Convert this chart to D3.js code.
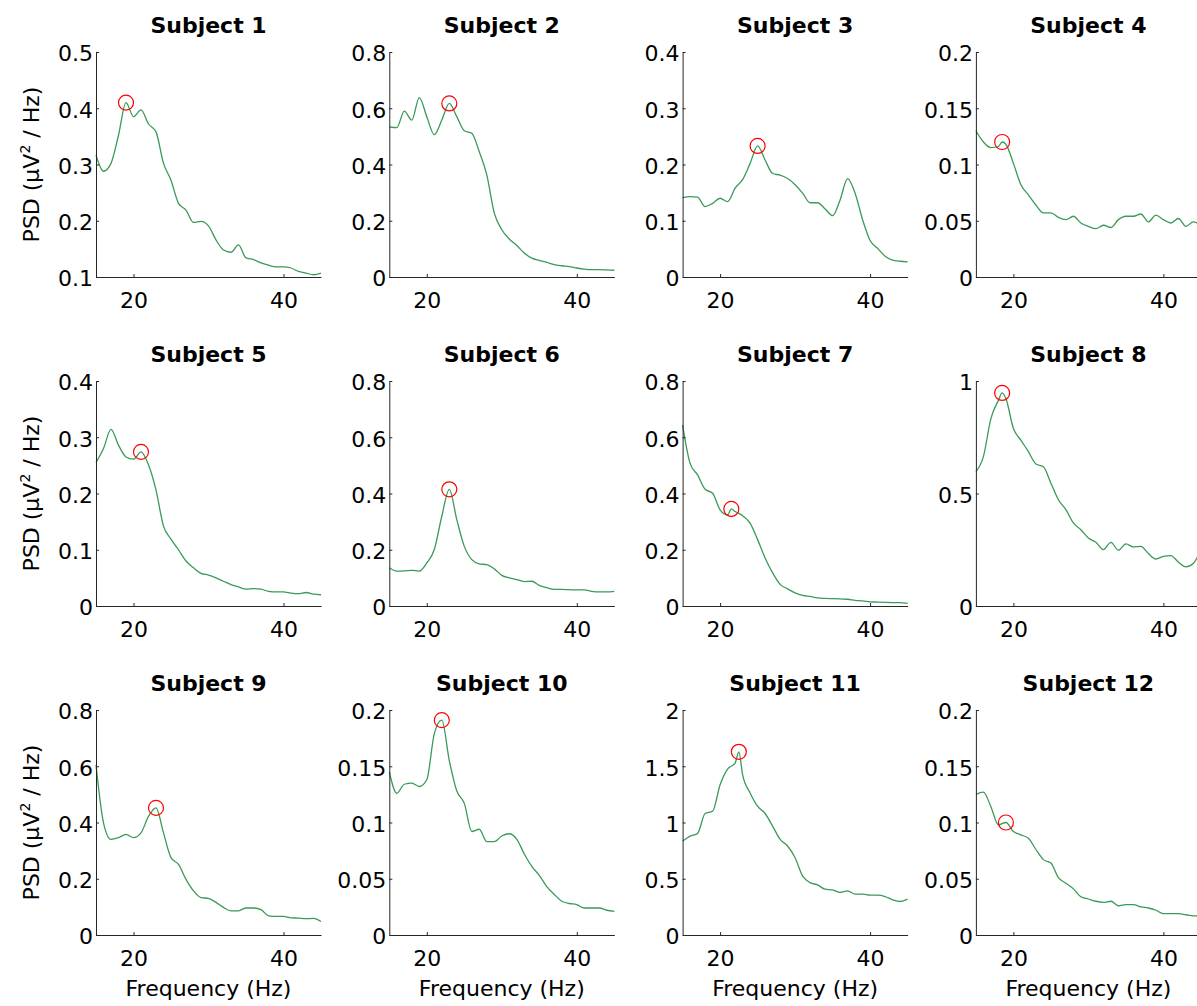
<!DOCTYPE html>
<html>
<head>
<meta charset="utf-8">
<script src="https://cdn.jsdelivr.net/npm/d3@7"></script>
<style>
body { margin: 0; background: #fff; }
text { font-family: "DejaVu Sans", sans-serif; fill: #000; }
</style>
</head>
<body>
<div id="chart"></div>
<script>
// frequency axis (Hz)
var freqs = [15,16,17,18,19,20,21,22,23,24,25,26,27,28,29,30,31,32,33,34,35,36,37,38,39,40,41,42,43,44,45];

// PSD per subject (uV^2/Hz) at 1 Hz steps
var psd1 = [0.317,0.288,0.302,0.352,0.410,0.385,0.397,0.372,0.358,0.302,0.272,0.231,0.219,0.197,0.199,0.191,0.166,0.148,0.144,0.157,0.134,0.131,0.125,0.121,0.118,0.118,0.116,0.110,0.107,0.104,0.107];
var psd2 = [0.534,0.531,0.590,0.558,0.638,0.570,0.506,0.558,0.617,0.570,0.520,0.511,0.445,0.363,0.227,0.168,0.135,0.112,0.085,0.067,0.059,0.052,0.044,0.040,0.037,0.032,0.028,0.026,0.026,0.025,0.024];
var psd3 = [0.141,0.143,0.142,0.125,0.131,0.140,0.134,0.158,0.173,0.202,0.233,0.208,0.184,0.181,0.175,0.164,0.149,0.132,0.132,0.121,0.109,0.137,0.175,0.149,0.102,0.065,0.051,0.037,0.030,0.028,0.027];
var psd4 = [0.130,0.120,0.115,0.116,0.118,0.101,0.082,0.073,0.064,0.057,0.057,0.053,0.051,0.054,0.048,0.045,0.043,0.046,0.044,0.051,0.054,0.054,0.056,0.049,0.055,0.051,0.048,0.052,0.045,0.049,0.046];
var psd5 = [0.255,0.280,0.314,0.286,0.265,0.261,0.274,0.251,0.206,0.142,0.119,0.100,0.080,0.068,0.058,0.055,0.050,0.044,0.038,0.034,0.030,0.031,0.030,0.026,0.025,0.025,0.023,0.022,0.024,0.021,0.020];
var psd6 = [0.136,0.124,0.125,0.127,0.124,0.153,0.201,0.319,0.415,0.307,0.212,0.165,0.150,0.147,0.132,0.109,0.100,0.094,0.087,0.088,0.073,0.065,0.059,0.059,0.058,0.057,0.057,0.052,0.050,0.050,0.052];
var psd7 = [0.643,0.507,0.466,0.415,0.401,0.342,0.324,0.336,0.321,0.295,0.236,0.171,0.118,0.077,0.061,0.047,0.038,0.034,0.029,0.027,0.026,0.025,0.024,0.020,0.018,0.015,0.014,0.013,0.012,0.012,0.009];
var psd8 = [0.597,0.664,0.833,0.914,0.922,0.789,0.737,0.686,0.631,0.619,0.546,0.472,0.428,0.369,0.339,0.302,0.283,0.251,0.283,0.248,0.276,0.263,0.265,0.233,0.209,0.221,0.224,0.195,0.174,0.190,0.250];
var psd9 = [0.605,0.399,0.340,0.346,0.358,0.346,0.363,0.422,0.452,0.363,0.275,0.251,0.198,0.157,0.133,0.130,0.116,0.098,0.086,0.086,0.096,0.096,0.090,0.068,0.066,0.066,0.061,0.060,0.058,0.059,0.048];
var psd10 = [0.145,0.126,0.134,0.135,0.132,0.138,0.179,0.191,0.155,0.128,0.117,0.092,0.094,0.083,0.083,0.088,0.090,0.085,0.072,0.061,0.053,0.043,0.036,0.030,0.028,0.027,0.024,0.024,0.024,0.022,0.021];
var psd11 = [0.835,0.879,0.903,1.080,1.100,1.336,1.475,1.528,1.425,1.263,1.145,1.080,0.968,0.850,0.791,0.687,0.525,0.466,0.445,0.407,0.401,0.378,0.392,0.363,0.363,0.354,0.354,0.342,0.313,0.298,0.319];
var psd12 = [0.125,0.127,0.114,0.098,0.100,0.092,0.089,0.086,0.076,0.067,0.064,0.051,0.046,0.041,0.034,0.032,0.030,0.029,0.030,0.026,0.027,0.027,0.025,0.024,0.022,0.019,0.019,0.019,0.018,0.017,0.017];

var subjects = ["Subject 1","Subject 2","Subject 3","Subject 4","Subject 5","Subject 6",
                "Subject 7","Subject 8","Subject 9","Subject 10","Subject 11","Subject 12"];

// detected peak (red circle) per subject
var peakFreqs = [19, 23, 25, 18.5, 21, 23, 21.5, 18.5, 23, 22, 22.5, 19];
var peakValues = [0.410, 0.617, 0.233, 0.120, 0.274, 0.415, 0.345, 0.947, 0.452, 0.191, 1.628, 0.100];

// y tick labels per subject (first/last = axis limits)
var yTicks = [
    [0.1,0.2,0.3,0.4,0.5],
    [0,0.2,0.4,0.6,0.8],
    [0,0.1,0.2,0.3,0.4],
    [0,0.05,0.1,0.15,0.2],
    [0,0.1,0.2,0.3,0.4],
    [0,0.2,0.4,0.6,0.8],
    [0,0.2,0.4,0.6,0.8],
    [0,0.5,1],
    [0,0.2,0.4,0.6,0.8],
    [0,0.05,0.1,0.15,0.2],
    [0,0.5,1,1.5,2],
    [0,0.05,0.1,0.15,0.2]
];
var xTicks = [20, 40];
var allPsd = [psd1,psd2,psd3,psd4,psd5,psd6,psd7,psd8,psd9,psd10,psd11,psd12];

var width = 1197;
var height = 1006;
var plot_w = 225;
var plot_h = 225;
var left0 = 96, top0 = 52;
var col_step = 293.3, row_step = 329;

var svg = d3.select("#chart")
    .append("svg")
    .attr("width", width)
    .attr("height", height);

var fmt = function(d) { return String(+d.toFixed(2)); };

allPsd.forEach(function(psd, i) {
    var col = i % 4, row = Math.floor(i / 4);
    var g = svg.append("g")
        .attr("transform", "translate(" + (left0 + col * col_step) + "," + (top0 + row * row_step) + ")");

    var ticks = yTicks[i];
    var x_scale = d3.scaleLinear().domain([15, 45]).range([0, plot_w]);
    var y_scale = d3.scaleLinear().domain([ticks[0], ticks[ticks.length - 1]]).range([plot_h, 0]);

    // line points, with the peak sample added where it falls between 1 Hz steps
    var pts = freqs.map(function(f, j) { return [f, psd[j]]; });
    if (freqs.indexOf(peakFreqs[i]) < 0) pts.push([peakFreqs[i], peakValues[i]]);
    pts.sort(function(a, b) { return a[0] - b[0]; });

    var line = d3.line()
        .x(function(d) { return x_scale(d[0]); })
        .y(function(d) { return y_scale(d[1]); })
        .curve(d3.curveMonotoneX);

    g.append("path")
        .datum(pts)
        .attr("d", line)
        .attr("fill", "none")
        .attr("stroke", "#3a9a58")
        .attr("stroke-width", 1.3);

    g.append("circle")
        .attr("cx", x_scale(peakFreqs[i]))
        .attr("cy", y_scale(peakValues[i]))
        .attr("r", 7.5)
        .attr("fill", "none")
        .attr("stroke", "#ff0000")
        .attr("stroke-width", 1.2);

    var x_axis = d3.axisBottom(x_scale).tickValues(xTicks).tickSize(-3).tickSizeOuter(0).tickPadding(15);
    var y_axis = d3.axisLeft(y_scale).tickValues(ticks).tickFormat(fmt).tickSize(-3).tickSizeOuter(0).tickPadding(3);

    var gx = g.append("g")
        .attr("transform", "translate(0," + plot_h + ")")
        .call(x_axis);
    var gy = g.append("g").call(y_axis);

    [gx, gy].forEach(function(a) {
        a.select(".domain").attr("stroke", "#262626").attr("stroke-width", 1);
        a.selectAll(".tick line").attr("stroke", "#262626");
        a.selectAll(".tick text").attr("font-size", 22).attr("font-family", "DejaVu Sans, sans-serif").attr("fill", "#000");
    });
    gy.selectAll(".tick text").attr("dy", "0.4em");

    g.append("text")
        .attr("x", plot_w / 2)
        .attr("y", -19.5)
        .attr("text-anchor", "middle")
        .attr("font-size", 22)
        .attr("font-weight", "bold")
        .text(subjects[i]);

    if (row === 2) {
        g.append("text")
            .attr("x", plot_w / 2)
            .attr("y", plot_h + 61)
            .attr("text-anchor", "middle")
            .attr("font-size", 22)
            .text("Frequency (Hz)");
    }
    if (col === 0) {
        var yl = g.append("text")
            .attr("transform", "translate(" + (-57) + "," + (plot_h / 2) + ") rotate(-90)")
            .attr("text-anchor", "middle")
            .attr("font-size", 22);
        yl.append("tspan").text("PSD (\u03bcV");
        yl.append("tspan").attr("font-size", 14).attr("dy", -9).text("2");
        yl.append("tspan").attr("dy", 9).text(" / Hz)");
    }
});
</script>
</body>
</html>
